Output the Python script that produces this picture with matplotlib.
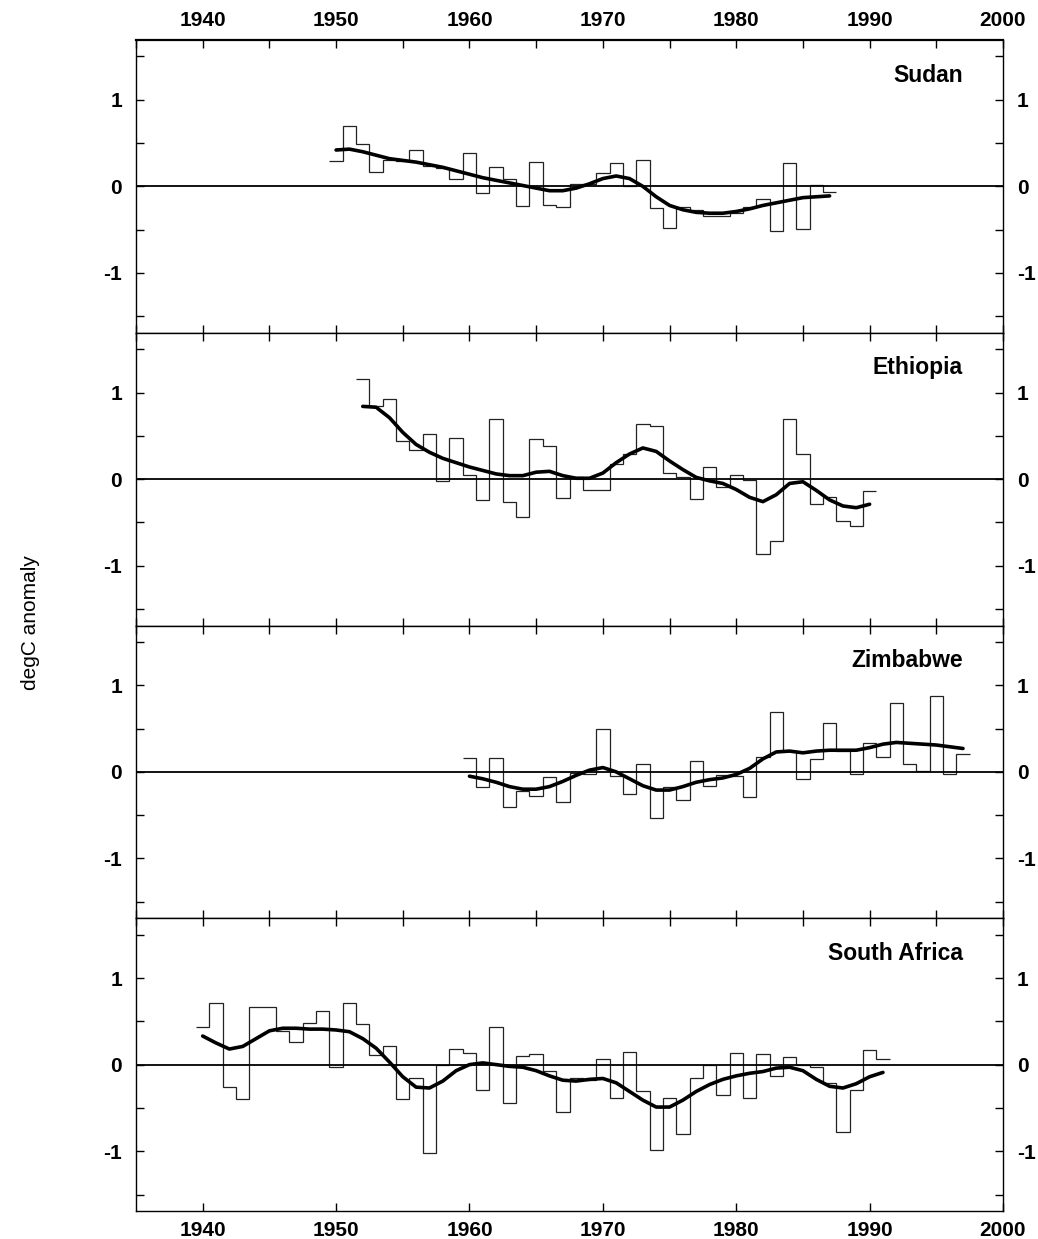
import numpy as np
import matplotlib
matplotlib.use('Agg')
import matplotlib.pyplot as plt
from matplotlib.ticker import MultipleLocator, FixedLocator

plt.rcParams['font.family'] = ['Liberation Sans', 'DejaVu Sans']
plt.rcParams['axes.unicode_minus'] = False

# annual anomalies (degC) and smoothed curve
sudan_years = np.arange(1950, 1988)
sudan_vals = [0.29, 0.70, 0.49, 0.17, 0.31, 0.29, 0.42, 0.24, 0.21, 0.09,
              0.38, -0.08, 0.22, 0.08, -0.23, 0.28, -0.22, -0.24, 0.03, 0.03,
              0.15, 0.27, 0.01, 0.30, -0.25, -0.48, -0.24, -0.27, -0.34, -0.34,
              -0.31, -0.24, -0.14, -0.52, 0.27, -0.49, 0.02, -0.06]
sudan_smooth = [0.42, 0.43, 0.40, 0.36, 0.32, 0.30, 0.28, 0.25, 0.22, 0.18,
                0.14, 0.10, 0.07, 0.04, 0.01, -0.02, -0.05, -0.05, -0.02, 0.03,
                0.09, 0.12, 0.09, 0.00, -0.12, -0.22, -0.27, -0.30, -0.31, -0.31,
                -0.29, -0.26, -0.22, -0.19, -0.16, -0.13, -0.12, -0.11]

ethiopia_years = np.arange(1952, 1991)
ethiopia_vals = [1.16, 0.84, 0.92, 0.44, 0.34, 0.52, -0.02, 0.47, 0.05, -0.24,
                 0.69, -0.26, -0.44, 0.46, 0.38, -0.22, 0.02, -0.12, -0.12, 0.18,
                 0.29, 0.64, 0.61, 0.07, 0.03, -0.23, 0.14, -0.09, 0.05, -0.01,
                 -0.87, -0.72, 0.69, 0.29, -0.29, -0.21, -0.48, -0.54, -0.14]
ethiopia_smooth = [0.84, 0.83, 0.71, 0.54, 0.40, 0.31, 0.24, 0.19, 0.14, 0.10,
                   0.06, 0.04, 0.04, 0.08, 0.09, 0.04, 0.01, 0.01, 0.07, 0.19,
                   0.29, 0.36, 0.32, 0.21, 0.11, 0.02, -0.02, -0.05, -0.12, -0.21,
                   -0.26, -0.18, -0.05, -0.03, -0.13, -0.24, -0.31, -0.33, -0.29]

zimbabwe_years = np.arange(1960, 1998)
zimbabwe_vals = [0.16, -0.17, 0.16, -0.41, -0.22, -0.28, -0.06, -0.35, -0.01, -0.03,
                 0.50, -0.05, -0.25, 0.09, -0.53, -0.18, -0.33, 0.12, -0.16, -0.04,
                 -0.05, -0.29, 0.17, 0.69, 0.24, -0.08, 0.15, 0.56, 0.24, -0.02,
                 0.33, 0.17, 0.79, 0.09, 0.01, 0.88, -0.02, 0.21]
zimbabwe_smooth = [-0.05, -0.08, -0.12, -0.17, -0.20, -0.20, -0.17, -0.11, -0.04, 0.02,
                   0.05, 0.00, -0.08, -0.16, -0.21, -0.21, -0.17, -0.12, -0.09, -0.07,
                   -0.03, 0.04, 0.15, 0.23, 0.24, 0.22, 0.24, 0.25, 0.25, 0.25,
                   0.28, 0.32, 0.34, 0.33, 0.32, 0.31, 0.29, 0.27]

safrica_years = np.arange(1940, 1992)
safrica_vals = [0.44, 0.71, -0.26, -0.40, 0.66, 0.67, 0.39, 0.26, 0.48, 0.62,
                -0.03, 0.71, 0.47, 0.11, 0.21, -0.40, -0.15, -1.02, 0.00, 0.18,
                0.13, -0.29, 0.44, -0.44, 0.10, 0.12, -0.07, -0.55, -0.16, -0.18,
                0.07, -0.39, 0.15, -0.31, -0.98, -0.39, -0.80, -0.15, -0.01, -0.35,
                0.13, -0.38, 0.12, -0.13, 0.09, 0.00, -0.03, -0.21, -0.78, -0.29,
                0.17, 0.06]
safrica_smooth = [0.33, 0.25, 0.18, 0.21, 0.30, 0.39, 0.42, 0.42, 0.41, 0.41,
                  0.40, 0.38, 0.30, 0.19, 0.03, -0.14, -0.26, -0.27, -0.19, -0.07,
                  0.00, 0.02, 0.00, -0.02, -0.03, -0.07, -0.13, -0.18, -0.19, -0.17,
                  -0.16, -0.21, -0.31, -0.41, -0.49, -0.49, -0.41, -0.31, -0.23, -0.17,
                  -0.13, -0.10, -0.08, -0.04, -0.03, -0.07, -0.17, -0.25, -0.27, -0.22,
                  -0.14, -0.09]

countries = ['Sudan', 'Ethiopia', 'Zimbabwe', 'South Africa']
all_years = [sudan_years, ethiopia_years, zimbabwe_years, safrica_years]
all_vals = [sudan_vals, ethiopia_vals, zimbabwe_vals, safrica_vals]
all_smooth = [sudan_smooth, ethiopia_smooth, zimbabwe_smooth, safrica_smooth]

fig, axes = plt.subplots(4, 1, figsize=(10.38, 12.39), dpi=100, sharex=True)
fig.subplots_adjust(left=136/1038, right=1003/1038, top=1-40/1239,
                    bottom=1-1211/1239, hspace=0)

for i, ax in enumerate(axes):
    yrs = all_years[i]
    edges = np.append(yrs - 0.5, yrs[-1] + 0.5)
    ax.stairs(all_vals[i], edges, baseline=None, color='#222222', linewidth=0.9)
    ax.plot(yrs, all_smooth[i], color='black', linewidth=2.6,
            solid_capstyle='round', solid_joinstyle='round')
    ax.axhline(0, color='black', linewidth=1.3)
    ax.text(0.954, 0.88, countries[i], transform=ax.transAxes, ha='right', va='center',
            fontsize=16.5, fontweight='bold')

    ax.set_xlim(1935, 2000)
    ax.set_ylim(-1.69, 1.69)
    ax.xaxis.set_major_locator(MultipleLocator(10))
    ax.xaxis.set_minor_locator(MultipleLocator(5))
    ax.yaxis.set_major_locator(FixedLocator([-1, 0, 1]))
    ax.yaxis.set_minor_locator(FixedLocator([-1.5, -0.5, 0.5, 1.5]))
    ax.tick_params(which='both', direction='in', top=True, bottom=True,
                   left=True, right=True, length=6, width=1.0,
                   labelleft=True, labelright=True, labelbottom=False, labeltop=False,
                   labelsize=15)
    ax.tick_params(axis='y', pad=10)
    for sp in ax.spines.values():
        sp.set_linewidth(1.0)

axes[0].tick_params(axis='x', labeltop=True, pad=7)
axes[0].spines['top'].set_linewidth(1.6)
axes[-1].tick_params(axis='x', labelbottom=True, pad=7)
axes[-1].tick_params(which='minor', bottom=False)

for ax in axes:
    for lab in ax.xaxis.get_ticklabels() + ax.yaxis.get_ticklabels():
        lab.set_fontweight('bold')
    for t in ax.xaxis.get_major_ticks() + ax.yaxis.get_major_ticks():
        t.label1.set_fontweight('bold')
        t.label2.set_fontweight('bold')

fig.text(30/1038, 1-623/1239, 'degC anomaly', rotation=90, ha='center', va='center',
         fontsize=15)

plt.savefig('out.png', dpi=100)
